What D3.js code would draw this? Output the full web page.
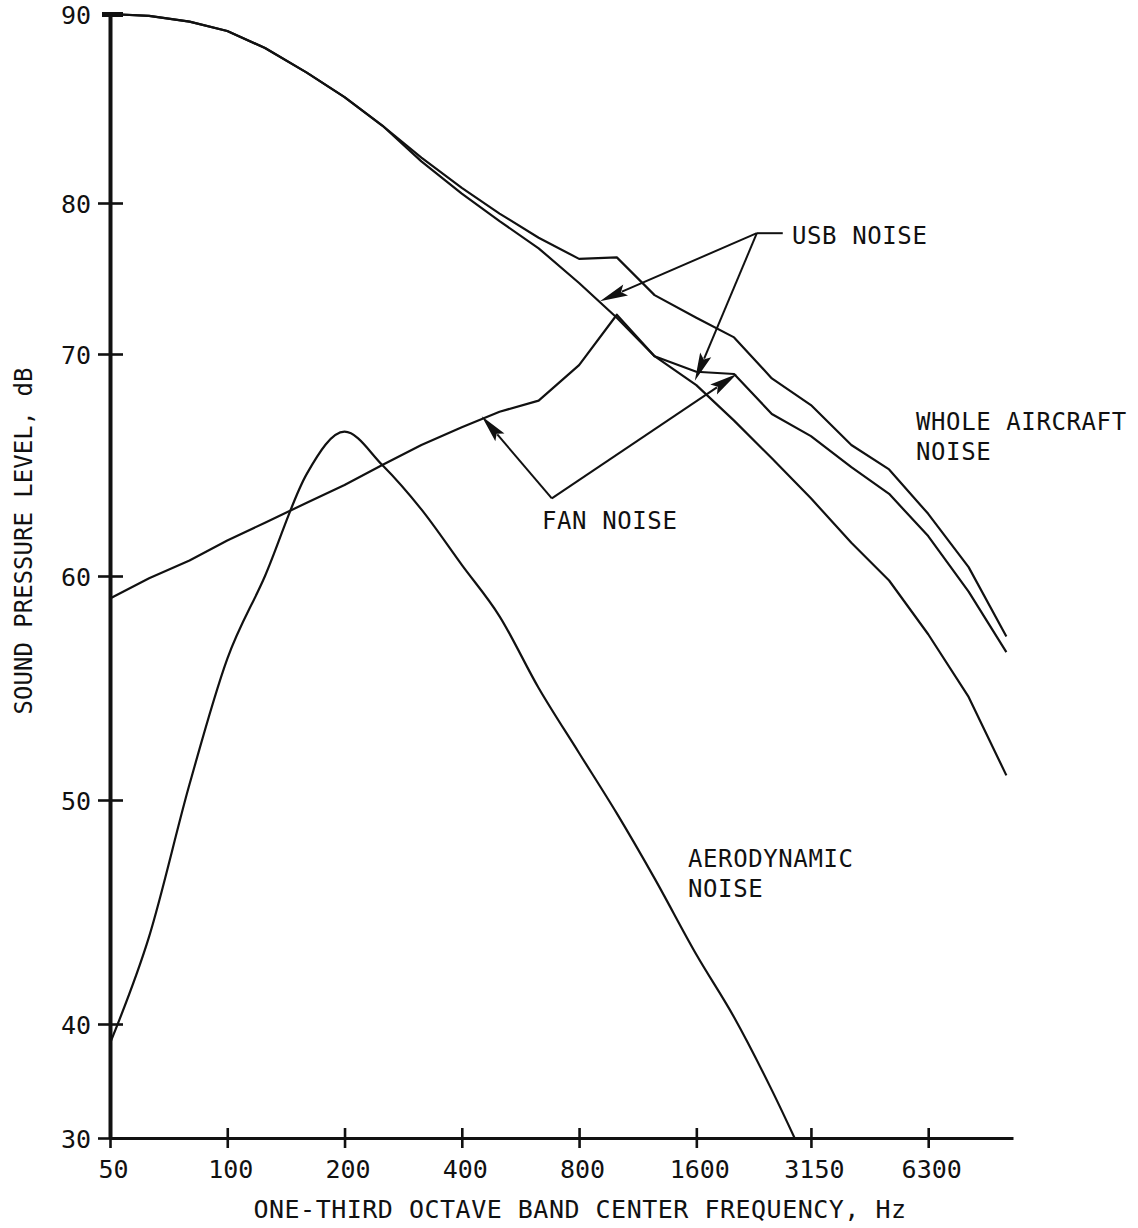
<!DOCTYPE html>
<html>
<head>
<meta charset="utf-8">
<script src="https://cdn.jsdelivr.net/npm/d3@7/dist/d3.min.js"></script>
<style>
  html, body { margin: 0; padding: 0; background: #fff; }
  svg { display: block; }
  text { font-family: "DejaVu Sans Mono", "Liberation Mono", monospace; fill: #111; }
</style>
</head>
<body>
<svg id="chart" width="1138" height="1228"></svg>
<script>
// ---- Data ----
const bands = [50, 63, 80, 100, 125, 160, 200, 250, 315, 400, 500, 630, 800, 1000, 1250, 1600, 2000, 2500, 3150, 4000, 5000, 6300, 8000, 10000];
const xTickValues = [50, 100, 200, 400, 800, 1600, 3150, 6300];
const yTickValues = [30, 40, 50, 60, 70, 80, 90];

const wholeAircraftNoise = [90.0, 89.9, 89.6, 89.1, 88.2, 86.9, 85.6, 84.1, 82.4, 80.8, 79.3, 77.7, 76.3, 76.4, 73.9, 72.4, 71.1, 68.9, 67.7, 65.9, 64.8, 62.8, 60.4, 57.3];
const usbNoise           = [90.0, 89.9, 89.6, 89.1, 88.2, 86.9, 85.6, 84.1, 82.2, 80.5, 78.8, 77.0, 74.7, 72.4, 69.9, 68.6, 67.0, 65.3, 63.5, 61.5, 59.8, 57.4, 54.6, 51.1];
const fanNoise           = [59.0, 59.9, 60.7, 61.6, 62.4, 63.3, 64.1, 65.0, 65.9, 66.7, 67.4, 67.9, 69.5, 72.6, 69.9, 69.2, 69.1, 67.3, 66.3, 64.9, 63.7, 61.8, 59.3, 56.6];
const aerodynamicNoise   = [38.3, 43.9, 50.7, 56.3, 60.0, 64.6, 66.5, 65.0, 63.0, 60.5, 58.2, 55.0, 52.1, 49.4, 46.5, 43.1, 40.3, 34.2, 26.9, null, null, null, null, null];

// annotation leaders: [frequency, dB]
const usbVertex = [2288, 78.0];
const usbStubEnd = [2667, 78.0];
const usbTargets = [[905, 73.5], [1586, 68.8]];
const fanVertex = [681, 63.5];
const fanTargets = [[450, 67.2], [2033, 69.1]];

// ---- Scales ----
const svg = d3.select("#chart");
svg.append("rect").attr("width", 1138).attr("height", 1228).attr("fill", "#fff");

const x = d3.scaleLog().domain([50, 10400]).range([110, 1013]);
// the printed dB axis is not evenly spaced, so follow its tick positions piecewise
const y = d3.scaleLinear().domain(yTickValues).range([1138, 1024, 800, 576, 354, 203, 14]);

const ink = "#111";

svg.append("defs").append("clipPath").attr("id", "plotClip")
  .append("rect").attr("x", 108).attr("y", 0).attr("width", 910).attr("height", 1138);

// ---- Axes ----
const xAxis = svg.append("g").attr("transform", `translate(0,${y(30)})`)
  .call(d3.axisBottom(x).tickValues(xTickValues).tickFormat(d3.format("d")).tickSizeOuter(0));
xAxis.select(".domain").attr("stroke", ink).attr("stroke-width", 3.2);
xAxis.selectAll(".tick line").attr("y1", -10).attr("y2", 10).attr("stroke", ink).attr("stroke-width", 2.6);
xAxis.selectAll(".tick text").attr("y", 40).attr("dy", 0).attr("dx", 3)
  .style("font-size", "25px").style("font-family", "'DejaVu Sans Mono', monospace").attr("fill", ink);

const yAxis = svg.append("g").attr("transform", `translate(${x(50)},0)`)
  .call(d3.axisLeft(y).tickValues(yTickValues).tickFormat(d3.format("d")).tickSizeOuter(0));
yAxis.select(".domain").attr("stroke", ink).attr("stroke-width", 4);
yAxis.selectAll(".tick line").attr("x1", -12).attr("x2", 13).attr("stroke", ink).attr("stroke-width", 2.6);
yAxis.selectAll(".tick text").attr("x", -19).attr("dy", "0.36em")
  .style("font-size", "25px").style("font-family", "'DejaVu Sans Mono', monospace").attr("fill", ink);
yAxis.selectAll(".tick").filter(d => d === 90).select("line").attr("stroke-width", 5).attr("x1", -8);

// Axis titles
svg.append("text")
  .attr("x", 580).attr("y", 1218)
  .attr("text-anchor", "middle")
  .style("font-size", "25px").style("letter-spacing", "0.5px")
  .text("ONE-THIRD OCTAVE BAND CENTER FREQUENCY, Hz");

svg.append("text")
  .attr("transform", "translate(32,541) rotate(-90)")
  .attr("text-anchor", "middle")
  .style("font-size", "24px")
  .text("SOUND PRESSURE LEVEL, dB");

// ---- Curves ----
const lineLinear = d3.line()
  .defined(d => d[1] !== null)
  .x(d => x(d[0])).y(d => y(d[1]));
const lineSmooth = d3.line()
  .defined(d => d[1] !== null)
  .curve(d3.curveMonotoneX)
  .x(d => x(d[0])).y(d => y(d[1]));

const series = [
  { vals: wholeAircraftNoise, gen: lineLinear },
  { vals: usbNoise, gen: lineLinear },
  { vals: fanNoise, gen: lineLinear },
  { vals: aerodynamicNoise, gen: lineSmooth }
];
const plot = svg.append("g").attr("clip-path", "url(#plotClip)");
series.forEach(s => {
  plot.append("path")
    .datum(bands.map((b, i) => [b, s.vals[i]]))
    .attr("d", s.gen)
    .attr("fill", "none")
    .attr("stroke", ink)
    .attr("stroke-width", 2.2)
    .attr("stroke-linejoin", "round");
});

// ---- Annotations ----
function px(p) { return [x(p[0]), y(p[1])]; }
function arrow(from, to) {
  const [x0, y0] = px(from), [x1, y1] = px(to);
  const dx = x1 - x0, dy = y1 - y0, len = Math.hypot(dx, dy);
  const ux = dx / len, uy = dy / len;
  const headLen = 28, half = 6;
  const bx = x1 - ux * headLen, by = y1 - uy * headLen;
  svg.append("line").attr("x1", x0).attr("y1", y0).attr("x2", bx + ux * 4).attr("y2", by + uy * 4)
    .attr("stroke", ink).attr("stroke-width", 2);
  svg.append("polygon")
    .attr("points", [[x1, y1], [bx - uy * half, by + ux * half], [bx + ux * 5, by + uy * 5], [bx + uy * half, by - ux * half]].map(p => p.join(",")).join(" "))
    .attr("fill", ink);
}
usbTargets.forEach(t => arrow(usbVertex, t));
fanTargets.forEach(t => arrow(fanVertex, t));
{
  const [a0, b0] = px(usbVertex), [a1, b1] = px(usbStubEnd);
  svg.append("line").attr("x1", a0).attr("y1", b0).attr("x2", a1).attr("y2", b1)
    .attr("stroke", ink).attr("stroke-width", 2);
}

const labels = [
  { t: "USB NOISE", x: 792, y: 244 },
  { t: "WHOLE AIRCRAFT", x: 916, y: 430 },
  { t: "NOISE", x: 916, y: 460 },
  { t: "FAN NOISE", x: 542, y: 529 },
  { t: "AERODYNAMIC", x: 688, y: 867 },
  { t: "NOISE", x: 688, y: 897 }
];
svg.selectAll("text.lbl").data(labels).enter().append("text")
  .attr("class", "lbl")
  .attr("x", d => d.x).attr("y", d => d.y)
  .style("font-size", "24px").style("letter-spacing", "0.6px")
  .text(d => d.t);
</script>
</body>
</html>
